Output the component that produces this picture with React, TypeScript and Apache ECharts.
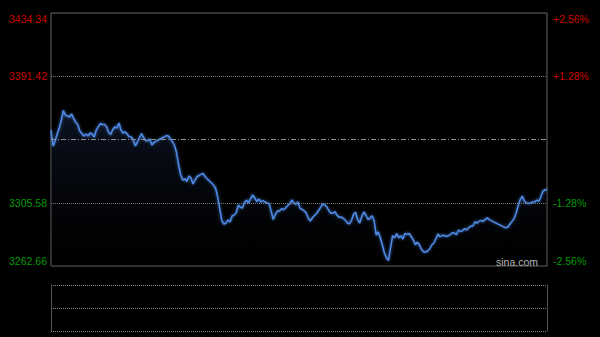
import React, { useEffect, useRef } from 'react';
import * as echarts from 'echarts';

// Intraday index values (one per minute)
const prices: number[] = [
  3354.95, 3344.09, 3347.48, 3352.23, 3356.30, 3361.73, 3368.18, 3365.12, 3364.44, 3363.77,
  3365.80, 3362.75, 3360.37, 3358.68, 3354.27, 3352.57, 3350.87, 3352.23, 3350.87, 3352.91,
  3352.23, 3350.19, 3354.95, 3357.18, 3359.36, 3358.68, 3358.68, 3357.32, 3353.25, 3351.89,
  3355.28, 3357.12, 3356.30, 3359.69, 3354.95, 3352.91, 3353.72, 3352.23, 3350.33, 3350.19,
  3348.16, 3344.09, 3346.94, 3349.72, 3352.57, 3349.99, 3347.68, 3347.75, 3348.84, 3344.77,
  3346.46, 3347.28, 3348.09, 3348.84, 3349.52, 3350.19, 3351.21, 3350.87, 3348.97, 3347.14,
  3344.43, 3339.68, 3331.19, 3324.75, 3321.02, 3321.83, 3320.00, 3323.73, 3322.51, 3318.30,
  3321.02, 3323.39, 3324.07, 3325.09, 3325.43, 3323.05, 3321.69, 3320.34, 3318.98, 3317.62,
  3315.25, 3309.48, 3301.34, 3293.53, 3291.16, 3291.84, 3293.87, 3292.52, 3296.59, 3297.27,
  3298.62, 3304.05, 3302.49, 3302.02, 3305.75, 3307.31, 3305.41, 3308.46, 3310.84, 3308.80,
  3306.43, 3308.12, 3306.09, 3307.10, 3306.09, 3305.41, 3305.07, 3299.64, 3294.21, 3297.60,
  3299.98, 3299.98, 3301.54, 3300.86, 3302.02, 3303.71, 3305.00, 3307.44, 3305.41, 3304.53,
  3306.09, 3301.81, 3301.13, 3300.12, 3298.76, 3295.09, 3293.19, 3295.36, 3296.93, 3298.28,
  3300.32, 3302.49, 3304.73, 3304.19, 3302.83, 3300.32, 3298.49, 3298.42, 3299.51, 3297.06,
  3295.64, 3295.91, 3295.03, 3293.67, 3291.84, 3291.23, 3293.60, 3297.74, 3299.10, 3294.08,
  3291.84, 3296.25, 3299.30, 3297.27, 3294.21, 3295.03, 3296.79, 3293.53, 3283.69, 3285.73,
  3281.79, 3276.91, 3271.48, 3268.09, 3266.39, 3275.21, 3283.22, 3281.86, 3284.71, 3281.79,
  3283.15, 3280.98, 3284.85, 3284.10, 3284.71, 3282.68, 3280.44, 3277.11, 3278.74, 3277.04,
  3273.85, 3272.29, 3272.02, 3272.84, 3274.19, 3276.91, 3278.27, 3280.98, 3284.37, 3282.54,
  3283.29, 3283.49, 3282.68, 3283.15, 3283.90, 3285.19, 3285.05, 3283.83, 3287.02, 3286.07,
  3286.68, 3288.04, 3287.09, 3288.72, 3289.80, 3289.80, 3292.72, 3291.70, 3292.99, 3293.67,
  3292.79, 3294.35, 3295.36, 3294.14, 3293.40, 3292.65, 3291.97, 3291.23, 3290.61, 3289.87,
  3289.19, 3288.51, 3289.12, 3291.16, 3292.92, 3294.82, 3298.62, 3303.71, 3307.72, 3310.16,
  3306.63, 3305.34, 3305.20, 3305.41, 3306.09, 3306.09, 3307.44, 3306.43, 3309.62, 3313.42,
  3314.23, 3314.71,
];

const prevClose = 3348.5;
const yMin = 3262.66;
const yMax = 3434.34;
const yStep = 42.92;
const leftTickLabels = ['3262.66', '3305.58', '', '3391.42', '3434.34'];
const rightTickLabels = ['-2.56%', '-1.28%', '', '+1.28%', '+2.56%'];
const guideLevels = [3391.42, 3348.5, 3305.58];
const volumes: number[] = [];

function buildTimes(n: number): string[] {
  const out: string[] = [];
  const pad = (v: number) => (v < 10 ? '0' + v : '' + v);
  let h = 9;
  let m = 30;
  for (let i = 0; i < n; i++) {
    out.push(pad(h) + ':' + pad(m));
    if (h === 11 && m === 30) {
      h = 13;
      m = 0;
    } else {
      m++;
      if (m === 60) {
        m = 0;
        h++;
      }
    }
  }
  return out;
}
const times = buildTimes(prices.length);

const RED = '#cc0000';
const GREEN = '#009a00';
const FONT = '"Liberation Sans", Arial, sans-serif';

export default function App() {
  const ref = useRef<HTMLDivElement>(null);

  useEffect(() => {
    document.body.style.margin = '0';
    document.body.style.background = '#000';
    if (!ref.current) return;
    const chart = echarts.init(ref.current, undefined, { renderer: 'svg' });

    const labelColor = (v: any) => (Number(v) > prevClose ? RED : GREEN);

    chart.setOption({
      animation: false,
      backgroundColor: '#000',
      grid: [
        { left: 51, top: 13, width: 496, height: 253, show: true, borderColor: '#666', borderWidth: 1, backgroundColor: 'transparent' },
        { left: 51, top: 285, width: 496, height: 46, show: false },
      ],
      xAxis: [
        { type: 'category', gridIndex: 0, data: times, boundaryGap: false, show: false },
        { type: 'category', gridIndex: 1, data: times, boundaryGap: false, show: false },
      ],
      yAxis: [
        {
          type: 'value', gridIndex: 0, position: 'left', min: yMin, max: yMax, interval: yStep,
          axisLine: { show: false }, axisTick: { show: false }, splitLine: { show: false },
          axisLabel: {
            margin: 4, fontSize: 10.5, fontFamily: FONT,
            color: labelColor,
            formatter: (v: number, i: number) => leftTickLabels[i] ?? '',
            verticalAlignMinLabel: 'bottom', verticalAlignMaxLabel: 'top',
          },
        },
        {
          type: 'value', gridIndex: 0, position: 'right', min: yMin, max: yMax, interval: yStep,
          axisLine: { show: false }, axisTick: { show: false }, splitLine: { show: false },
          axisLabel: {
            margin: 6, fontSize: 10.5, fontFamily: FONT,
            color: labelColor,
            formatter: (v: number, i: number) => rightTickLabels[i] ?? '',
            verticalAlignMinLabel: 'bottom', verticalAlignMaxLabel: 'top',
          },
        },
        {
          type: 'value', gridIndex: 1, position: 'left', min: 0, max: 2, interval: 1,
          axisLine: { show: true, lineStyle: { color: '#555', width: 1 } },
          axisTick: { show: false }, axisLabel: { show: false },
          splitLine: { show: true, lineStyle: { color: '#8a8a8a', width: 1, type: [1, 1] } },
        },
        {
          type: 'value', gridIndex: 1, position: 'right', min: 0, max: 2, interval: 1,
          axisLine: { show: true, lineStyle: { color: '#555', width: 1 } },
          axisTick: { show: false }, axisLabel: { show: false }, splitLine: { show: false },
        },
      ],
      series: [
        {
          type: 'line',
          xAxisIndex: 0,
          yAxisIndex: 0,
          data: prices,
          symbol: 'none',
          lineStyle: { color: '#4f8be6', width: 1.5, shadowColor: 'rgba(80,140,240,0.8)', shadowBlur: 3 },
          areaStyle: {
            origin: 'start',
            color: new echarts.graphic.LinearGradient(0, 0, 0, 1, [
              { offset: 0, color: 'rgba(22,36,66,0.75)' },
              { offset: 1, color: 'rgba(0,0,0,0.2)' },
            ]),
          },
          markLine: {
            silent: true,
            symbol: 'none',
            label: { show: false },
            data: guideLevels.map((v) => ({
              yAxis: v,
              lineStyle: v === prevClose
                ? { color: '#8f8f8f', width: 1, type: [5, 2, 1, 2] }
                : { color: '#7a7a7a', width: 1, type: [1, 1] },
            })),
          },
          z: 3,
        },
        {
          type: 'bar',
          xAxisIndex: 1,
          yAxisIndex: 2,
          data: volumes,
        },
      ],
      graphic: [
        {
          type: 'text',
          x: 538,
          y: 262,
          style: { text: 'sina.com', align: 'right', verticalAlign: 'middle', fill: '#b4b4b4', fontSize: 10.5, fontFamily: FONT },
          z: 10,
        },
      ],
    });

    return () => chart.dispose();
  }, []);

  return <div ref={ref} style={{ width: 600, height: 337, background: '#000' }} />;
}
